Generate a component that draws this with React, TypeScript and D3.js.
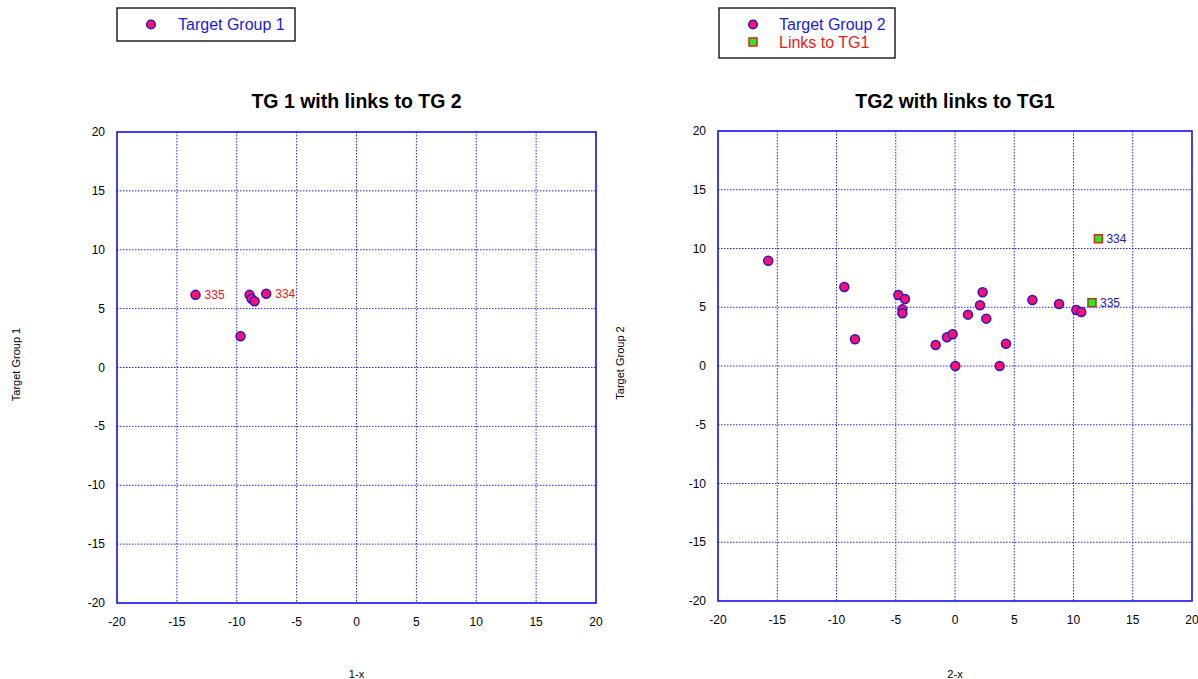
import React from "react";
import * as d3 from "d3";

const ticks = [-20, -15, -10, -5, 0, 5, 10, 15, 20];

const tg1X = [-13.44, -8.93, -8.76, -8.51, -7.54, -9.68];
const tg1Y = [6.17, 6.17, 5.83, 5.63, 6.26, 2.66];
const tg1Labels = ["335", "", "", "", "334", ""];

const tg2X = [-15.76, -9.34, -8.44, -4.78, -4.22, -4.44, -4.44, -1.63, -0.68, -0.2, 0.03, 1.1, 2.11, 2.33, 2.64, 3.77, 4.3, 6.53, 8.78, 10.24, 10.66];
const tg2Y = [8.96, 6.72, 2.27, 6.04, 5.7, 4.82, 4.48, 1.79, 2.44, 2.7, 0, 4.37, 5.17, 6.27, 4.03, 0, 1.9, 5.62, 5.28, 4.77, 4.6];

const linkX = [12.1, 11.56];
const linkY = [10.83, 5.39];
const linkLabels = ["334", "335"];

const FONT = "Arial, 'Liberation Sans', sans-serif";
const CIRCLE_FILL = "#ff0f6e";
const CIRCLE_STROKE = "#2a16c8";
const GRID = "#2424e0";
const AXIS = "#1010f0";

type PanelProps = {
  x0: number; x1: number; y0: number; y1: number;
  title: string; xTitle: string; yTitle: string; yTitleX: number;
  children: (sx: d3.ScaleLinear<number, number>, sy: d3.ScaleLinear<number, number>) => React.ReactNode;
};

function Panel({ x0, x1, y0, y1, title, xTitle, yTitle, yTitleX, children }: PanelProps) {
  const sx = d3.scaleLinear().domain([-20, 20]).range([x0, x1]);
  const sy = d3.scaleLinear().domain([-20, 20]).range([y1, y0]);
  const cx = (x0 + x1) / 2;
  const cy = (y0 + y1) / 2;
  return (
    <g>
      <text x={cx} y={108} textAnchor="middle" fontFamily={FONT} fontWeight="bold" fontSize={19.5} fill="#000">{title}</text>
      {ticks.filter(t => t > -20 && t < 20).map(t => (
        <g key={"g" + t}>
          <line x1={sx(t)} x2={sx(t)} y1={y0} y2={y1} stroke={GRID} strokeWidth={1} strokeDasharray="1.5,1.5" />
          <line x1={x0} x2={x1} y1={sy(t)} y2={sy(t)} stroke={GRID} strokeWidth={1} strokeDasharray="1.5,1.5" />
        </g>
      ))}
      <rect x={x0} y={y0} width={x1 - x0} height={y1 - y0} fill="none" stroke={AXIS} strokeWidth={1.6} />
      {ticks.map(t => (
        <text key={"xt" + t} x={sx(t)} y={y1 + 23} textAnchor="middle" fontFamily={FONT} fontSize={12} fill="#000">{t}</text>
      ))}
      {ticks.map(t => (
        <text key={"yt" + t} x={x0 - 12} y={sy(t) + 4} textAnchor="end" fontFamily={FONT} fontSize={12} fill="#000">{t}</text>
      ))}
      <text x={cx} y={678} textAnchor="middle" fontFamily={FONT} fontSize={11} fill="#000">{xTitle}</text>
      <text transform={`translate(${yTitleX},${cy - 3}) rotate(-90)`} textAnchor="middle" fontFamily={FONT} fontSize={11} fill="#000">{yTitle}</text>
      {children(sx, sy)}
    </g>
  );
}

export default function App() {
  return (
    <svg width={1198} height={679} style={{ position: "absolute", left: 0, top: 0 }}>
      <rect width={1198} height={679} fill="#fff" />
      {/* Legend 1 */}
      <rect x={117} y={8} width={178} height={33} fill="#fff" stroke="#000" strokeWidth={1.3} />
      <circle cx={151} cy={24.5} r={4.3} fill={CIRCLE_FILL} stroke={CIRCLE_STROKE} strokeWidth={1.5} />
      <text x={178} y={30} fontFamily={FONT} fontSize={16} fill="#1a1ae0">Target Group 1</text>
      {/* Legend 2 */}
      <rect x={719} y={8} width={176} height={50} fill="#fff" stroke="#000" strokeWidth={1.3} />
      <circle cx={753} cy={24.5} r={4.3} fill={CIRCLE_FILL} stroke={CIRCLE_STROKE} strokeWidth={1.5} />
      <text x={779} y={30} fontFamily={FONT} fontSize={16} fill="#1a1ae0">Target Group 2</text>
      <rect x={749} y={38} width={8} height={8} fill="#22ee22" stroke="#e02020" strokeWidth={1.5} />
      <text x={779} y={47.5} fontFamily={FONT} fontSize={16} fill="#ee1a1a">Links to TG1</text>

      <Panel x0={117} x1={596} y0={132} y1={603} title="TG 1 with links to TG 2" xTitle="1-x" yTitle="Target Group 1" yTitleX={20}>
        {(sx, sy) => (
          <g>
            {tg1X.map((x, i) => (
              <g key={"p1" + i}>
                <circle cx={sx(x)} cy={sy(tg1Y[i])} r={4.5} fill={CIRCLE_FILL} stroke={CIRCLE_STROKE} strokeWidth={1.5} />
                {tg1Labels[i] && (
                  <text x={sx(x) + 9} y={sy(tg1Y[i]) + 4} fontFamily={FONT} fontSize={12} fill="#e81818">{tg1Labels[i]}</text>
                )}
              </g>
            ))}
          </g>
        )}
      </Panel>

      <Panel x0={718} x1={1192} y0={131} y1={601} title="TG2 with links to TG1" xTitle="2-x" yTitle="Target Group 2" yTitleX={624}>
        {(sx, sy) => (
          <g>
            {tg2X.map((x, i) => (
              <circle key={"p2" + i} cx={sx(x)} cy={sy(tg2Y[i])} r={4.5} fill={CIRCLE_FILL} stroke={CIRCLE_STROKE} strokeWidth={1.5} />
            ))}
            {linkX.map((x, i) => (
              <g key={"l" + i}>
                <rect x={sx(x) - 4} y={sy(linkY[i]) - 4} width={8} height={8} fill="#22ee22" stroke={i === 0 ? "#e02020" : "#a04010"} strokeWidth={1.5} />
                <text x={sx(x) + 8} y={sy(linkY[i]) + 4} fontFamily={FONT} fontSize={12} fill="#2020c0">{linkLabels[i]}</text>
              </g>
            ))}
          </g>
        )}
      </Panel>
    </svg>
  );
}
